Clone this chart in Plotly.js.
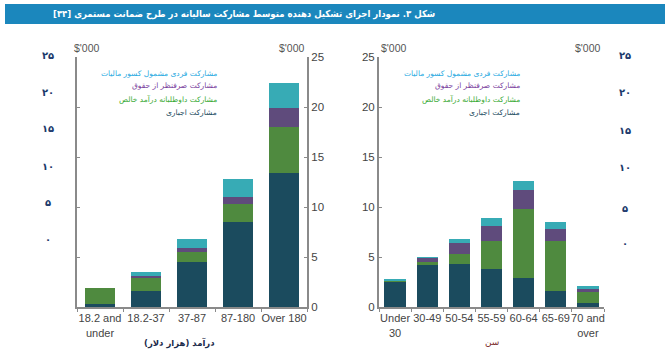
<!DOCTYPE html>
<html><head><meta charset="utf-8">
<script src="https://cdn.plot.ly/plotly-3.0.1.min.js"></script>
<style>html,body{margin:0;padding:0;background:#fff}#c{width:665px;height:362px}</style>
</head><body><div id="c"></div>
<script>
// Data
const incomeCats = ["18.2 and<br>under", "18.2-37", "37-87", "87-180", "Over 180"];
const incomeCompulsory = [0.3, 1.6, 4.5, 8.5, 13.4];
const incomeVoluntary = [1.6, 1.3, 1.0, 1.8, 4.6];
const incomeSalarySac = [0.0, 0.2, 0.4, 0.7, 1.9];
const incomeCoContrib = [0.0, 0.4, 0.9, 1.8, 2.5];

const ageCats = ["Under<br>30", "30-49", "50-54", "55-59", "60-64", "65-69", "70 and<br>over"];
const ageCompulsory = [2.5, 4.2, 4.3, 3.8, 2.9, 1.6, 0.4];
const ageVoluntary = [0.1, 0.3, 1.0, 2.8, 6.9, 5.0, 1.1];
const ageSalarySac = [0.05, 0.4, 1.1, 1.5, 1.9, 1.2, 0.3];
const ageCoContrib = [0.15, 0.1, 0.4, 0.8, 0.9, 0.7, 0.3];

const seriesNames = ["مشارکت اجباری", "مشارکت داوطلبانه درآمد خالص", "مشارکت صرفنظر از حقوق", "مشارکت فردی مشمول کسور مالیات"];
const barColors = ["#1b4b5e", "#4f8a3f", "#5f4b7c", "#37abb5"];
const legendTextColors = ["#1b4b5e", "#3aaa35", "#7b3f9e", "#29aae1"];
const persianTicks = ["۲۵", "۲۰", "۱۵", "۱۰", "۵", "۰"];
const titleText = "شکل ۳. نمودار اجزای تشکیل دهنده متوسط مشارکت سالیانه در طرح ضمانت مستمری [۳۴]";

const W = 665, H = 362;
const px = x => x / W, py = y => 1 - y / H;

const incomeSeries = [incomeCompulsory, incomeVoluntary, incomeSalarySac, incomeCoContrib];
const ageSeries = [ageCompulsory, ageVoluntary, ageSalarySac, ageCoContrib];
const traces = [];
incomeSeries.forEach((vals, i) => traces.push({type: 'bar', x: incomeCats, y: vals, name: seriesNames[i],
  marker: {color: barColors[i], line: {width: 0}}, xaxis: 'x', yaxis: 'y', showlegend: false, hoverinfo: 'skip'}));
ageSeries.forEach((vals, i) => traces.push({type: 'bar', x: ageCats, y: vals, name: seriesNames[i],
  marker: {color: barColors[i], line: {width: 0}}, xaxis: 'x2', yaxis: 'y2', showlegend: false, hoverinfo: 'skip'}));

const gray = '#8a8a8a';
const tickFont = {family: 'Liberation Sans, Arial, sans-serif', size: 11.5, color: '#444'};
const yDom = [py(307), py(57)];
const baseY = {range: [0, 25], dtick: 5, showgrid: false, zeroline: false, domain: yDom, fixedrange: true,
  showline: true, linecolor: gray, linewidth: 2, ticks: 'inside', ticklen: 3, tickwidth: 1, tickcolor: gray, tickfont: tickFont};
const baseX = {showgrid: false, zeroline: false, showline: true, linecolor: gray, linewidth: 2, ticks: 'outside', ticklen: 3,
  tickcolor: gray, tickwidth: 1, tickson: 'boundaries', tickangle: 0,
  tickfont: {family: 'Liberation Sans, Arial, sans-serif', size: 11, color: '#444'}, fixedrange: true};

const annotations = [];
const fa = 'DejaVu Sans, sans-serif';
annotations.push({xref: 'paper', yref: 'paper', x: px(437), y: py(14), xanchor: 'right', yanchor: 'middle',
  text: '<b>' + titleText + '</b>', showarrow: false,
  font: {family: 'DejaVu Sans Condensed, DejaVu Sans, sans-serif', size: 9.5, color: '#fff'}});
// legend text blocks
const legendRows = [73, 86, 99, 112];
[219, 522].forEach(xr => {
  for (let k = 0; k < 4; k++) {
    const idx = 3 - k;
    annotations.push({xref: 'paper', yref: 'paper', x: px(xr), y: py(legendRows[k]), xanchor: 'right', yanchor: 'middle',
      text: seriesNames[idx], showarrow: false, font: {family: fa, size: 7.5, color: legendTextColors[idx]}});
  }
});
// $'000 labels
[[87, 'center'], [307, 'right'], [379, 'left'], [603, 'right']].forEach(([x, a]) => {
  annotations.push({xref: 'paper', yref: 'paper', x: px(x), y: py(48), xanchor: a, yanchor: 'middle',
    text: "$'000", showarrow: false, font: {family: 'Liberation Sans, Arial, sans-serif', size: 10.5, color: '#555'}});
});
// Persian tick columns
const leftRows = [55, 92, 129, 166, 203, 239];
const rightRows = [55, 93, 130, 168, 208, 243];
persianTicks.forEach((t, i) => {
  annotations.push({xref: 'paper', yref: 'paper', x: px(48), y: py(leftRows[i]), xanchor: 'center', yanchor: 'middle',
    text: '<b>' + t + '</b>', showarrow: false, font: {family: fa, size: 10, color: '#1b3a6b'}});
  annotations.push({xref: 'paper', yref: 'paper', x: px(625), y: py(rightRows[i]), xanchor: 'center', yanchor: 'middle',
    text: '<b>' + t + '</b>', showarrow: false, font: {family: fa, size: 10, color: '#1b3a6b'}});
});
// axis titles
annotations.push({xref: 'paper', yref: 'paper', x: px(179), y: py(343), xanchor: 'center', yanchor: 'middle',
  text: '<b>درآمد (هزار دلار)</b>', showarrow: false, font: {family: fa, size: 8.5, color: '#1b2a4a'}});
annotations.push({xref: 'paper', yref: 'paper', x: px(492), y: py(342), xanchor: 'center', yanchor: 'middle',
  text: 'سن', showarrow: false, font: {family: fa, size: 9, color: '#7a2a2a'}});

const layout = {
  width: W, height: H, margin: {l: 0, r: 0, t: 0, b: 0}, paper_bgcolor: '#fff', plot_bgcolor: 'rgba(0,0,0,0)',
  barmode: 'stack', bargap: 0.34, showlegend: false,
  xaxis: Object.assign({}, baseX, {domain: [px(77), px(307)], anchor: 'y'}),
  xaxis2: Object.assign({}, baseX, {domain: [px(379), px(604)], anchor: 'y2'}),
  yaxis: Object.assign({}, baseY, {anchor: 'x', side: 'right', mirror: 'ticks'}),
  yaxis2: Object.assign({}, baseY, {anchor: 'x2', side: 'left'}),
  shapes: [{type: 'rect', xref: 'paper', yref: 'paper', x0: px(5), x1: 1, y0: py(24), y1: py(4),
    fillcolor: '#1b87bd', line: {width: 0}, layer: 'below'}],
  annotations: annotations
};
Plotly.newPlot('c', traces, layout, {displayModeBar: false, staticPlot: true});
</script></body></html>
